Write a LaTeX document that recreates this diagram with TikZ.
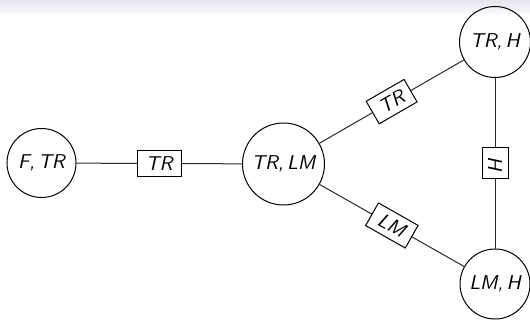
\documentclass[tikz,border=0pt]{standalone}
\usepackage{tikz}
\definecolor{bandtop}{RGB}{228,229,238}
\definecolor{bandbot}{RGB}{248,248,251}
\definecolor{edgecol}{RGB}{40,40,40}
\tikzset{
  lbl/.style={font=\fontsize{10}{12}\selectfont\sffamily\itshape},
  state/.style={lbl, circle, draw=black, line width=0.5pt, inner sep=0pt},
  tag/.style={lbl, draw=black, fill=white, line width=0.5pt, inner xsep=4.3pt, inner ysep=0pt, minimum height=13pt},
  link/.style={draw=edgecol, line width=0.5pt}
}
\begin{document}
\begin{tikzpicture}[x=0.5pt,y=-0.5pt]
\useasboundingbox (0,0) rectangle (530,321);
\shade[top color=bandtop, bottom color=bandbot] (0,0) rectangle (530,13);
\node[state, minimum size=34.5pt] (ftr) at (41.5,163) {F,\,TR};
\node[state, minimum size=41pt] (trlm) at (283.5,164) {TR,\,LM};
\node[state, minimum size=35.5pt] (trh) at (495,42) {TR,\,H};
\node[state, minimum size=35pt] (lmh) at (495,284) {LM,\,H};
\draw[link] (ftr) -- node[tag] (t1) {TR} (trlm);
\draw[link] (trlm) -- node[tag, sloped] (t2) {TR} (trh);
\draw[link] (trlm) -- node[tag, sloped] (t3) {LM} (lmh);
\draw[link] (trh) -- node[tag, sloped] (t4) {H} (lmh);
\end{tikzpicture}
\end{document}
